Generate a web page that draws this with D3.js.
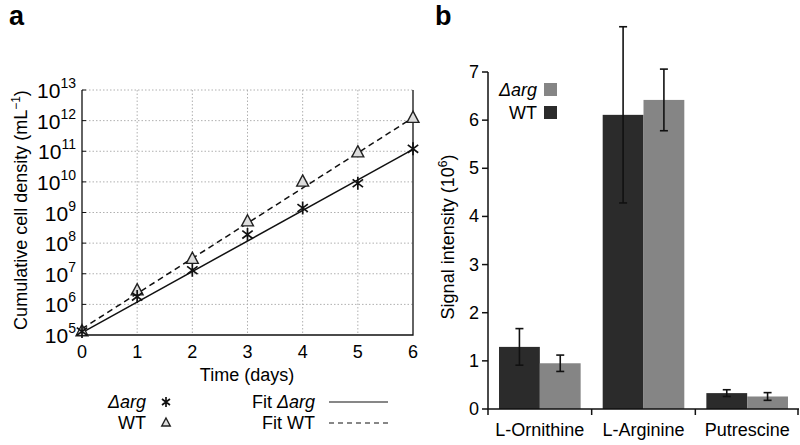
<!DOCTYPE html>
<html>
<head>
<meta charset="utf-8">
<script src="https://cdn.jsdelivr.net/npm/d3@7"></script>
<style>
	body { margin: 0; background: #fff; }
	svg { display: block; font-family: "Liberation Sans", Arial, sans-serif; }
	.grid line { stroke: #b0b0b0; stroke-dasharray: 1.5 2; stroke-width: 1; }
</style>
</head>
<body>
<div id="container"></div>
<script>
// panel a data (cell density per day)
var days = [0, 1, 2, 3, 4, 5, 6];
var argDensity = [1.3e5, 1.8e6, 1.3e7, 1.9e8, 1.4e9, 9e9, 1.2e11];
var wtDensity = [1.3e5, 2.8e6, 3e7, 5e8, 1e10, 9e10, 1.2e12];
var fitArg = [[0, 1.2e5], [6, 1.15e11]];
var fitWT = [[0, 1.6e5], [6, 1.25e12]];
var yExponents = [5, 6, 7, 8, 9, 10, 11, 12, 13];

// panel b data (signal intensity, 10^6)
var compounds = ['L-Ornithine', 'L-Arginine', 'Putrescine'];
var strains = ['WT', 'Δarg'];
var wtSignal = [1.29, 6.11, 0.33];
var wtErr = [0.38, 1.83, 0.07];
var argSignal = [0.95, 6.42, 0.26];
var argErr = [0.17, 0.64, 0.08];
var signalTicks = [0, 1, 2, 3, 4, 5, 6, 7];

var width = 800, height = 445;

var svg = d3.select('#container').append('svg')
	.attr('width', width)
	.attr('height', height);

//---------- panel a
var xa = d3.scaleLinear().domain([0, 6]).range([82, 413]);
var ya = d3.scaleLog().domain([1e5, 1e13]).range([335, 90]);

var ga = svg.append('g');

ga.append('text').attr('x', 9).attr('y', 25)
	.style('font-size', '27px').style('font-weight', 'bold')
	.text('a');

var grid = ga.append('g').attr('class', 'grid');
grid.selectAll('.vg').data(days.slice(1, 6)).enter().append('line')
	.attr('x1', d => xa(d)).attr('x2', d => xa(d))
	.attr('y1', ya(1e13)).attr('y2', ya(1e5));
grid.selectAll('.hg').data(yExponents.slice(1)).enter().append('line')
	.attr('x1', xa(0)).attr('x2', xa(6))
	.attr('y1', d => ya(Math.pow(10, d))).attr('y2', d => ya(Math.pow(10, d)));

// axes box (left, bottom, right)
ga.append('path')
	.attr('d', d3.line()([[xa(0), ya(1e13)], [xa(0), ya(1e5)], [xa(6), ya(1e5)], [xa(6), ya(1e13)]]))
	.attr('fill', 'none').attr('stroke', '#111').attr('stroke-width', 1.3);

ga.selectAll('.ytick').data(yExponents).enter().append('line')
	.attr('x1', xa(0)).attr('x2', xa(0) + 4)
	.attr('y1', d => ya(Math.pow(10, d))).attr('y2', d => ya(Math.pow(10, d)))
	.attr('stroke', '#111');

var ylab = ga.selectAll('.ylab').data(yExponents).enter().append('text')
	.attr('x', xa(0) - 6)
	.attr('y', d => ya(Math.pow(10, d)) + 8)
	.attr('text-anchor', 'end')
	.style('font-size', '21px')
	.text('10');
ylab.append('tspan').attr('dy', -10).style('font-size', '14px').text(d => d);

ga.selectAll('.xlab').data(days).enter().append('text')
	.attr('x', d => xa(d)).attr('y', 358)
	.attr('text-anchor', 'middle')
	.style('font-size', '18px')
	.text(d => d);

ga.append('text').attr('x', 247).attr('y', 381)
	.attr('text-anchor', 'middle').style('font-size', '18px')
	.text('Time (days)');

var yt = ga.append('text')
	.attr('transform', 'translate(27,' + 210 + ') rotate(-90)')
	.attr('text-anchor', 'middle').style('font-size', '18px');
yt.append('tspan').text('Cumulative cell density (mL');
yt.append('tspan').attr('dy', -7).style('font-size', '12px').text('−1');
yt.append('tspan').attr('dy', 7).text(')');

var line = d3.line().x(d => xa(d[0])).y(d => ya(d[1]));

ga.append('path').attr('d', line(fitArg))
	.attr('fill', 'none').attr('stroke', '#111').attr('stroke-width', 1.5);
ga.append('path').attr('d', line(fitWT))
	.attr('fill', 'none').attr('stroke', '#111').attr('stroke-width', 1.5)
	.attr('stroke-dasharray', '6 4');

function star(g, cx, cy, r) {
	g.append('path')
		.attr('d', 'M' + cx + ',' + (cy - r) + 'V' + (cy + r) +
			'M' + (cx - r * 0.8) + ',' + (cy - r * 0.6) + 'L' + (cx + r * 0.8) + ',' + (cy + r * 0.6) +
			'M' + (cx - r * 0.8) + ',' + (cy + r * 0.6) + 'L' + (cx + r * 0.8) + ',' + (cy - r * 0.6))
		.attr('stroke', '#111').attr('stroke-width', 1.7).attr('fill', 'none');
}
function tri(g, cx, cy, r) {
	g.append('path')
		.attr('d', 'M' + cx + ',' + (cy - r) + 'L' + (cx + r * 0.85) + ',' + (cy + r * 0.6) + 'L' + (cx - r * 0.85) + ',' + (cy + r * 0.6) + 'Z')
		.attr('stroke', '#222').attr('stroke-width', 1.4).attr('fill', '#ddd');
}

days.forEach((d, i) => {
	tri(ga, xa(d), ya(wtDensity[i]), 7);
	star(ga, xa(d), ya(argDensity[i]), 6.5);
});

// legend a
ga.append('text').attr('x', 146).attr('y', 408).attr('text-anchor', 'end')
	.style('font-size', '18px').style('font-style', 'italic').text('Δarg');
star(ga, 166, 402, 5);
ga.append('text').attr('x', 146).attr('y', 429).attr('text-anchor', 'end')
	.style('font-size', '18px').text('WT');
tri(ga, 166, 423, 5);

var fl = ga.append('text').attr('x', 315).attr('y', 408).attr('text-anchor', 'end')
	.style('font-size', '18px');
fl.append('tspan').text('Fit ');
fl.append('tspan').style('font-style', 'italic').text('Δarg');
ga.append('text').attr('x', 315).attr('y', 429).attr('text-anchor', 'end')
	.style('font-size', '18px').text('Fit WT');
ga.append('path').attr('d', d3.line()([[329, 402], [388, 402]]))
	.attr('stroke', '#111').attr('stroke-width', 1.2);
ga.append('path').attr('d', d3.line()([[329, 423], [388, 423]]))
	.attr('stroke', '#111').attr('stroke-width', 1.2).attr('stroke-dasharray', '5 4');

//---------- panel b
var colorscale = { 'WT': '#2b2b2b', 'Δarg': '#858585' };
var xb = d3.scaleBand().domain(compounds).range([488, 799]);
var xs = d3.scaleBand().domain(strains).range([0, xb.bandwidth()]).paddingOuter(0.27);
var yb = d3.scaleLinear().domain([0, 7]).range([409, 72]);

var gb = svg.append('g');

gb.append('text').attr('x', 435).attr('y', 25)
	.style('font-size', '27px').style('font-weight', 'bold')
	.text('b');

var rows = [];
compounds.forEach((c, i) => {
	rows.push({ c: c, s: 'WT', v: wtSignal[i], e: wtErr[i] });
	rows.push({ c: c, s: 'Δarg', v: argSignal[i], e: argErr[i] });
});

gb.selectAll('.bar').data(rows).enter().append('rect')
	.attr('x', d => xb(d.c) + xs(d.s))
	.attr('width', xs.bandwidth())
	.attr('y', d => yb(d.v))
	.attr('height', d => yb(0) - yb(d.v))
	.attr('fill', d => colorscale[d.s]);

var eb = gb.selectAll('.err').data(rows).enter().append('g')
	.attr('transform', d => 'translate(' + (xb(d.c) + xs(d.s) + xs.bandwidth() / 2) + ',0)');
eb.append('line').attr('y1', d => yb(d.v + d.e)).attr('y2', d => yb(d.v - d.e));
eb.append('line').attr('x1', -4).attr('x2', 4).attr('y1', d => yb(d.v + d.e)).attr('y2', d => yb(d.v + d.e));
eb.append('line').attr('x1', -4).attr('x2', 4).attr('y1', d => yb(d.v - d.e)).attr('y2', d => yb(d.v - d.e));
eb.selectAll('line').attr('stroke', '#111').attr('stroke-width', 1.6);

gb.append('path').attr('d', d3.line()([[488, yb(7)], [488, yb(0)], [799, yb(0)]]))
	.attr('fill', 'none').attr('stroke', '#111').attr('stroke-width', 1.5);

gb.selectAll('.ytk').data(signalTicks).enter().append('line')
	.attr('x1', 482).attr('x2', 488)
	.attr('y1', d => yb(d)).attr('y2', d => yb(d))
	.attr('stroke', '#111').attr('stroke-width', 1.5);
gb.selectAll('.ylb').data(signalTicks).enter().append('text')
	.attr('x', 479).attr('y', d => yb(d) + 6)
	.attr('text-anchor', 'end').style('font-size', '18px')
	.text(d => d);

var bounds = compounds.map(c => xb(c)).concat([799]);
gb.selectAll('.xtk').data(bounds).enter().append('line')
	.attr('x1', d => Math.min(d, 798)).attr('x2', d => Math.min(d, 798))
	.attr('y1', yb(0)).attr('y2', yb(0) + 6)
	.attr('stroke', '#111').attr('stroke-width', 1.5);

gb.selectAll('.xlb').data(compounds).enter().append('text')
	.attr('x', d => xb(d) + xb.bandwidth() / 2).attr('y', 436)
	.attr('text-anchor', 'middle').style('font-size', '18px')
	.text(d => d);

var ybt = gb.append('text')
	.attr('transform', 'translate(454,' + 237 + ') rotate(-90)')
	.attr('text-anchor', 'middle').style('font-size', '18px');
ybt.append('tspan').text('Signal intensity (10');
ybt.append('tspan').attr('dy', -7).style('font-size', '12px').text('6');
ybt.append('tspan').attr('dy', 7).text(')');

// legend b
gb.append('text').attr('x', 537).attr('y', 96).attr('text-anchor', 'end')
	.style('font-size', '18px').style('font-style', 'italic').text('Δarg');
gb.append('rect').attr('x', 544).attr('y', 83).attr('width', 13).attr('height', 13).attr('fill', colorscale['Δarg']);
gb.append('text').attr('x', 537).attr('y', 119).attr('text-anchor', 'end')
	.style('font-size', '18px').text('WT');
gb.append('rect').attr('x', 544).attr('y', 106).attr('width', 13).attr('height', 13).attr('fill', colorscale['WT']);
</script>
</body>
</html>
